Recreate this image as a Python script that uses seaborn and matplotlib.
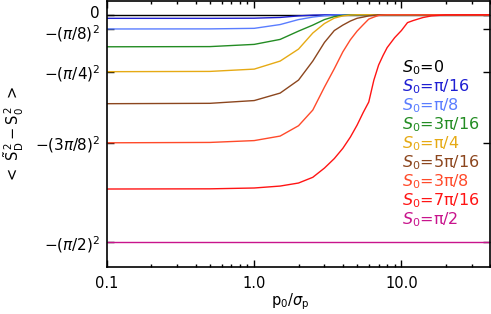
import numpy as np
import pandas as pd
import matplotlib
matplotlib.use("Agg")
import matplotlib.pyplot as plt
import matplotlib.transforms as mtransforms
import seaborn as sns

# p0/sigma_p grid
p_ratio = [0.1, 0.5, 1.0, 1.5, 2.0, 2.5, 3.0, 3.5, 4.0, 4.5, 5.0, 5.5, 6.0,
           6.5, 7.0, 7.5, 8.0, 9.0, 10.0, 11.0, 12.0, 14.0, 16.0, 20.0, 40.0]

# <S_D^2 - S_0^2> for each S0
s0_0 = [0.0, 0.0, 0.0, 0.0, 0.0, 0.0, 0.0, 0.0, 0.0, 0.0, 0.0, 0.0, 0.0,
        0.0, 0.0, 0.0, 0.0, 0.0, 0.0, 0.0, 0.0, 0.0, 0.0, 0.0, 0.0]
s0_pi16 = [-0.0386, -0.0386, -0.037, -0.029, -0.012, -0.004, -0.001, 0.0, 0.0,
           0.0, 0.0, 0.0, 0.0, 0.0, 0.0, 0.0, 0.0, 0.0, 0.0, 0.0, 0.0, 0.0,
           0.0, 0.0, 0.0]
s0_pi8 = [-0.154, -0.153, -0.147, -0.106, -0.052, -0.025, -0.010, -0.003, 0.0,
          0.0, 0.0, 0.0, 0.0, 0.0, 0.0, 0.0, 0.0, 0.0, 0.0, 0.0, 0.0, 0.0,
          0.0, 0.0, 0.0]
s0_3pi16 = [-0.347, -0.345, -0.321, -0.267, -0.177, -0.112, -0.052, -0.020,
            -0.0065, -0.002, 0.0, 0.0, 0.0, 0.0, 0.0, 0.0, 0.0, 0.0, 0.0, 0.0,
            0.0, 0.0, 0.0, 0.0, 0.0]
s0_pi4 = [-0.617, -0.614, -0.589, -0.502, -0.372, -0.198, -0.095, -0.036,
          -0.012, -0.003, 0.0, 0.0, 0.0, 0.0, 0.0, 0.0, 0.0, 0.0, 0.0, 0.0,
          0.0, 0.0, 0.0, 0.0, 0.0]
s0_5pi16 = [-0.964, -0.960, -0.930, -0.849, -0.708, -0.502, -0.300, -0.171,
            -0.112, -0.068, -0.038, -0.025, -0.012, -0.005, 0.0, 0.0, 0.0, 0.0,
            0.0, 0.0, 0.0, 0.0, 0.0, 0.0, 0.0]
s0_3pi8 = [-1.388, -1.384, -1.364, -1.315, -1.203, -1.033, -0.784, -0.585,
           -0.402, -0.271, -0.177, -0.108, -0.047, -0.025, -0.007, -0.002, 0.0,
           0.0, 0.0, 0.0, 0.0, 0.0, 0.0, 0.0, 0.0]
s0_7pi16 = [-1.889, -1.887, -1.878, -1.857, -1.824, -1.762, -1.662, -1.559,
            -1.448, -1.326, -1.196, -1.060, -0.946, -0.708, -0.545, -0.442,
            -0.356, -0.248, -0.171, -0.085, -0.063, -0.030, -0.012, -0.001, 0.0]
s0_pi2 = [-2.467, -2.467, -2.467, -2.467, -2.467, -2.467, -2.467, -2.467,
          -2.467, -2.467, -2.467, -2.467, -2.467, -2.467, -2.467, -2.467,
          -2.467, -2.467, -2.467, -2.467, -2.467, -2.467, -2.467, -2.467, -2.467]

labels = [r"$S_0$=0", r"$S_0$=π/16", r"$S_0$=π/8", r"$S_0$=3π/16", r"$S_0$=π/4",
          r"$S_0$=5π/16", r"$S_0$=3π/8", r"$S_0$=7π/16", r"$S_0$=π/2"]
colors = ["black", "#1e1ed2", "#5a7dff", "#238c23", "#e6aa14",
          "#8c461e", "#ff4a2a", "#ff1414", "#c8148c"]
series = [s0_0, s0_pi16, s0_pi8, s0_3pi16, s0_pi4, s0_5pi16, s0_3pi8,
          s0_7pi16, s0_pi2]

ytick_vals = [0, -(np.pi / 8) ** 2, -(np.pi / 4) ** 2, -(3 * np.pi / 8) ** 2,
              -(np.pi / 2) ** 2]
ytick_labels = ["0", r"$-(\pi/8)^2$", r"$-(\pi/4)^2$", r"$-(3\pi/8)^2$",
                r"$-(\pi/2)^2$"]

# long form table for seaborn
df = pd.concat([pd.DataFrame({"p": p_ratio, "val": s, "S0": lab})
                for s, lab in zip(series, labels)], ignore_index=True)

sns.set_style("ticks")
plt.rcParams["font.family"] = ["DejaVu Sans"]
plt.rcParams["mathtext.fontset"] = "dejavusans"
plt.rcParams["text.color"] = "black"
plt.rcParams["axes.labelcolor"] = "black"
plt.rcParams["xtick.color"] = "black"
plt.rcParams["ytick.color"] = "black"

fig = plt.figure(figsize=(4.91, 3.14), dpi=100)
ax = fig.add_axes([0.218, 0.151, 0.78, 0.846])

sns.lineplot(data=df, x="p", y="val", hue="S0", hue_order=labels,
             palette=colors, legend=False, linewidth=1.0, errorbar=None, ax=ax)

ax.set_xscale("log")
ax.set_xlim(0.1, 40)
ax.set_ylim(-2.73, 0.15)

ax.set_xticks([0.1, 1, 10])
ax.set_xticklabels(["0.1", "1.0", "10.0"])
ax.set_yticks(ytick_vals)
ax.set_yticklabels(ytick_labels)

ax.tick_params(which="both", direction="in", top=True, right=True, width=1.0,
               colors="black")
ax.tick_params(axis="x", labelsize=10.5, pad=7)
ax.tick_params(axis="y", labelsize=11, pad=5)
ax.tick_params(which="major", length=5)
ax.tick_params(which="minor", length=2.5)
for sp in ax.spines.values():
    sp.set_linewidth(1.2)
    sp.set_color("black")

# nudge the two top y labels apart a little, as in the original
ylabs = ax.get_yticklabels()
ylabs[0].set_transform(ylabs[0].get_transform() +
                       mtransforms.ScaledTranslation(0, 2 / 72, fig.dpi_scale_trans))
ylabs[1].set_transform(ylabs[1].get_transform() +
                       mtransforms.ScaledTranslation(0, -2 / 72, fig.dpi_scale_trans))

ax.set_xlabel(r"$\mathrm{p}_0/\sigma_\mathrm{p}$", fontsize=10.5, color="black")
ax.xaxis.set_label_coords(0.478, -0.095)
ax.set_ylabel(r"$<\ \tilde{\mathrm{S}}_\mathrm{D}^{\,2}-\mathrm{S}_0^{\,2}\ >$",
              fontsize=10.5, color="black")
ax.yaxis.set_label_coords(-0.212, 0.496)

# coloured label list in place of a legend
for i, (lab, c) in enumerate(zip(labels, colors)):
    ax.text(0.770, 0.747 - i * 0.0715, lab, color=c, fontsize=11.5,
            va="center", ha="left", transform=ax.transAxes)

plt.savefig("out.png", dpi=100)
